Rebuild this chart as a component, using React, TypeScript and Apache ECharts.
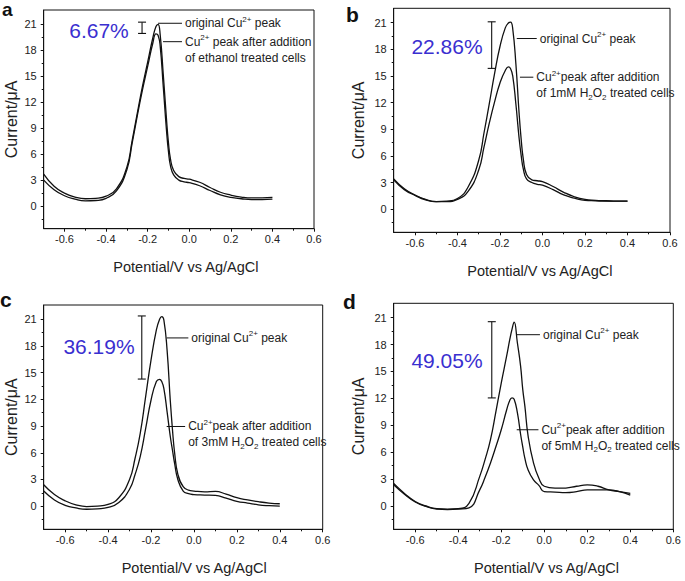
import React, { useEffect, useRef } from "react";
import * as echarts from "echarts";

const FONT = "'Liberation Sans', Arial, Helvetica, sans-serif";

// Shared potential grid (V vs Ag/AgCl)
const potential = [-0.7, -0.65, -0.6, -0.55, -0.5, -0.45, -0.4, -0.35, -0.3, -0.275, -0.25, -0.225, -0.2, -0.175, -0.16, -0.15, -0.14, -0.125, -0.11, -0.1, -0.09, -0.075, -0.05, -0.025, 0, 0.05, 0.1, 0.15, 0.2, 0.25, 0.3, 0.35, 0.4];

// Current (µA)
const aOriginal = [3.7, 2.3, 1.5, 1.05, 0.85, 0.9, 1.15, 2.0, 4.5, 7.5, 10.7, 13.8, 16.6, 19.4, 20.7, 20.95, 19.8, 15.2, 10.2, 7.3, 5.4, 4.1, 3.4, 3.2, 3.1, 2.75, 2.15, 1.6, 1.27, 1.05, 0.95, 0.95, 1.0];
const aTreated = [3.0, 1.9, 1.2, 0.8, 0.6, 0.65, 0.9, 1.75, 4.2, 7.2, 10.4, 13.4, 16.1, 18.8, 19.85, 19.7, 18.5, 13.8, 8.9, 6.3, 4.6, 3.6, 3.0, 2.8, 2.7, 2.35, 1.8, 1.3, 1.0, 0.85, 0.75, 0.75, 0.8];

const bOriginal = [3.4, 2.3, 1.6, 1.1, 0.85, 0.9, 1.2, 2.5, 5.5, 8.6, 11.9, 15.3, 18.3, 20.4, 20.95, 21.05, 20.3, 16.3, 10.8, 7.8, 5.6, 3.9, 3.3, 3.2, 3.1, 2.55, 1.9, 1.4, 1.1, 1.0, 0.95, 0.9, 0.9];
const bTreated = [3.3, 2.2, 1.55, 1.05, 0.85, 0.85, 1.1, 2.0, 4.4, 7.0, 9.7, 12.1, 14.2, 15.6, 16.0, 15.8, 15.0, 11.8, 8.0, 6.0, 4.5, 3.4, 3.0, 2.8, 2.7, 2.2, 1.6, 1.25, 1.0, 0.95, 0.9, 0.9, 0.9];

const cOriginal = [2.4, 1.3, 0.6, 0.15, -0.05, 0.0, 0.2, 0.95, 3.0, 5.3, 8.2, 12.3, 16.4, 19.8, 21.0, 21.3, 20.9, 17.5, 11.8, 8.6, 6.0, 3.6, 2.2, 1.8, 1.7, 1.6, 1.65, 1.35, 0.95, 0.7, 0.5, 0.35, 0.27];
const cTreated = [1.7, 0.7, 0.1, -0.2, -0.35, -0.3, -0.15, 0.4, 1.9, 3.5, 5.6, 8.7, 11.9, 14.0, 14.25, 14.0, 13.2, 10.6, 7.8, 6.3, 4.8, 3.0, 1.7, 1.4, 1.3, 1.25, 1.2, 0.9, 0.55, 0.35, 0.15, 0.05, 0.0];

const dOriginal = [2.5, 1.4, 0.5, 0.0, -0.3, -0.35, -0.3, 0.3, 3.3, 5.2, 7.4, 10.5, 13.7, 16.7, 18.6, 19.7, 20.5, 18.2, 15.6, 13.0, 11.1, 7.8, 4.8, 3.1, 2.2, 2.0, 2.0, 2.2, 2.35, 2.2, 1.8, 1.6, 1.4];
const dTreated = [2.35, 1.3, 0.45, -0.05, -0.35, -0.4, -0.35, -0.2, 1.8, 3.2, 4.8, 6.6, 8.5, 10.7, 11.8, 12.05, 11.9, 10.4, 8.0, 6.6, 5.3, 4.0, 2.9, 2.3, 1.6, 1.55, 1.5, 1.6, 1.8, 1.8, 1.8, 1.6, 1.2];

// Ticks
const yMajor = [0, 3, 6, 9, 12, 15, 18, 21];
const yMinor = [-1.5, 1.5, 4.5, 7.5, 10.5, 13.5, 16.5, 19.5];
const xMajor = [-0.6, -0.4, -0.2, 0, 0.2, 0.4, 0.6];
const xMinor = [-0.5, -0.3, -0.1, 0.1, 0.3, 0.5];

// Percentage decreases
const percents = ["6.67%", "22.86%", "36.19%", "49.05%"];
// Error bars: [x, low, high]
const errorBars = [
  [-0.227, 19.9, 21.2],
  [-0.239, 15.84, 21.08],
  [-0.243, 14.28, 21.37],
  [-0.244, 12.05, 20.55],
];
// Leader lines: [xStart, xEnd, y]
const leaders = [
  [[-0.15, -0.035, 21.07], [-0.126, -0.035, 18.95]],
  [[-0.121, -0.027, 19.2], [-0.106, -0.043, 14.85]],
  [[-0.127, -0.026, 18.9], [-0.127, -0.041, 8.95]],
  [[-0.128, -0.02, 19.1], [-0.128, -0.027, 8.5]],
];
const originalLabel = "{n|original Cu}{sp|2+}{n| peak}";
const treatedLabels = [
  "{n|Cu}{sp|2+}{n| peak after addition}\n{n|of ethanol treated cells}",
  "{n|Cu}{sp|2+}{n|peak after addition}\n{n|of 1mM H}{sb|2}{n|O}{sb|2}{n| treated cells}",
  "{n|Cu}{sp|2+}{n|peak after addition}\n{n|of 3mM H}{sb|2}{n|O}{sb|2}{n| treated cells}",
  "{n|Cu}{sp|2+}{n|peak after addition}\n{n|of 5mM H}{sb|2}{n|O}{sb|2}{n| treated cells}",
];
const letters = ["a", "b", "c", "d"];
const xTitle = "Potential/V vs Ag/AgCl";
const yTitle = "Current/μA";

// Layout (pixels)
const layout = [
  { grid: { left: 43.7, top: 10, width: 270.3, height: 218.7 }, yGap: 24, xShift: 7, pct: [99, 30], letter: [2, 9.5], letterSize: 19 },
  { grid: { left: 393.7, top: 8.3, width: 276.3, height: 224 }, yGap: 27, xShift: 8, pct: [447, 46.7], letter: [346, 14.4], letterSize: 21 },
  { grid: { left: 43.7, top: 305, width: 279, height: 224.3 }, yGap: 24, xShift: 11, pct: [99, 346.7], letter: [0, 299.4], letterSize: 21 },
  { grid: { left: 393.7, top: 303.3, width: 279.6, height: 226 }, yGap: 27, xShift: 13, pct: [447, 360], letter: [343, 301], letterSize: 21 },
];

const series2 = [
  [aOriginal, aTreated],
  [bOriginal, bTreated],
  [cOriginal, cTreated],
  [dOriginal, dTreated],
];

const INK = "#111";
const TXT = "#222";
const Y_MIN = -2.6;
const Y_MAX = 22.6;

const rich = {
  n: { fontSize: 12, fontFamily: FONT, fill: TXT, color: TXT, lineHeight: 16 },
  sp: { fontSize: 8, fontFamily: FONT, fill: TXT, color: TXT, lineHeight: 8, verticalAlign: "top" },
  sb: { fontSize: 8, fontFamily: FONT, fill: TXT, color: TXT, lineHeight: 8, verticalAlign: "bottom" },
};

function buildOption() {
  const grid: any[] = [];
  const xAxis: any[] = [];
  const yAxis: any[] = [];
  const series: any[] = [];
  const graphic: any[] = [];

  layout.forEach((L, i) => {
    grid.push({ ...L.grid, show: true, borderColor: INK, borderWidth: 1, backgroundColor: "rgba(0,0,0,0)" });

    xAxis.push({
      type: "value", gridIndex: i, min: -0.7, max: 0.6, position: "bottom",
      name: "{t|" + xTitle + "}", nameLocation: "middle", nameGap: 31,
      nameTextStyle: {
        fontFamily: FONT, fontSize: 14.5, color: TXT,
        rich: { t: { fontFamily: FONT, fontSize: 14.5, color: TXT, padding: [0, 0, 0, 2 * L.xShift] } },
      },
      axisLine: { show: true, onZero: false, lineStyle: { color: INK, width: 1 } },
      axisTick: { show: true, inside: false, length: 3, customValues: xMajor, lineStyle: { color: INK } },
      axisLabel: { show: true, customValues: xMajor, formatter: (v: number) => v.toFixed(1), fontFamily: FONT, fontSize: 11, color: TXT, margin: 5 },
      splitLine: { show: false },
    });
    xAxis.push({
      type: "value", gridIndex: i, min: -0.7, max: 0.6, position: "bottom",
      axisLine: { show: false, onZero: false },
      axisTick: { show: true, inside: false, length: 2, customValues: xMinor, lineStyle: { color: INK } },
      axisLabel: { show: false },
      splitLine: { show: false },
    });
    yAxis.push({
      type: "value", gridIndex: i, min: Y_MIN, max: Y_MAX, position: "left",
      name: yTitle, nameLocation: "middle", nameGap: L.yGap, nameRotate: 90,
      nameTextStyle: { fontFamily: FONT, fontSize: 16, color: TXT },
      axisLine: { show: true, onZero: false, lineStyle: { color: INK, width: 1 } },
      axisTick: { show: true, inside: false, length: 3, customValues: yMajor, lineStyle: { color: INK } },
      axisLabel: { show: true, customValues: yMajor, formatter: (v: number) => String(v), fontFamily: FONT, fontSize: 11, color: TXT, margin: 7 },
      splitLine: { show: false },
    });
    yAxis.push({
      type: "value", gridIndex: i, min: Y_MIN, max: Y_MAX, position: "left",
      axisLine: { show: false, onZero: false },
      axisTick: { show: true, inside: false, length: 2, customValues: yMinor, lineStyle: { color: INK } },
      axisLabel: { show: false },
      splitLine: { show: false },
    });

    const xi = 2 * i;
    series2[i].forEach((vals, k) => {
      series.push({
        type: "line", name: k === 0 ? "original" : "treated",
        xAxisIndex: xi, yAxisIndex: xi,
        data: potential.map((x, j) => [x, vals[j]]),
        symbol: "none", showSymbol: false, smooth: 0.5,
        lineStyle: { color: INK, width: 1.3 }, silent: true, z: 3,
      });
    });

    series.push({
      type: "custom", xAxisIndex: xi, yAxisIndex: xi, silent: true,
      data: [errorBars[i]],
      renderItem: (params: any, api: any) => {
        const top = api.coord([api.value(0), api.value(2)]);
        const bot = api.coord([api.value(0), api.value(1)]);
        const w = 4;
        const st = { stroke: INK, lineWidth: 1.1 };
        return {
          type: "group",
          children: [
            { type: "line", shape: { x1: top[0], y1: top[1], x2: bot[0], y2: bot[1] }, style: st },
            { type: "line", shape: { x1: top[0] - w, y1: top[1], x2: top[0] + w, y2: top[1] }, style: st },
            { type: "line", shape: { x1: bot[0] - w, y1: bot[1], x2: bot[0] + w, y2: bot[1] }, style: st },
          ],
        };
      },
    });

    const labelsHere = [originalLabel, treatedLabels[i]];
    series.push({
      type: "custom", xAxisIndex: xi, yAxisIndex: xi, silent: true,
      data: leaders[i],
      renderItem: (params: any, api: any) => {
        const p1 = api.coord([api.value(0), api.value(2)]);
        const p2 = api.coord([api.value(1), api.value(2)]);
        return {
          type: "group",
          children: [
            { type: "line", shape: { x1: p1[0], y1: p1[1], x2: p2[0], y2: p2[1] }, style: { stroke: INK, lineWidth: 1 } },
            {
              type: "text", x: p2[0] + 3, y: p1[1] - 8,
              style: { text: labelsHere[params.dataIndex], rich, fontFamily: FONT, fontSize: 12, lineHeight: 16, fill: TXT, align: "left", verticalAlign: "top" },
            },
          ],
        };
      },
    });

    graphic.push({
      type: "text", x: L.pct[0], y: L.pct[1], silent: true,
      style: { text: percents[i], fontFamily: FONT, fontSize: 21, fill: "#3a2fd0", align: "center", verticalAlign: "middle" },
    });
    graphic.push({
      type: "text", x: L.letter[0], y: L.letter[1], silent: true,
      style: { text: letters[i], fontFamily: FONT, fontSize: L.letterSize, fontWeight: "bold", fill: INK, align: "left", verticalAlign: "middle" },
    });
  });

  return { animation: false, backgroundColor: "#fff", grid, xAxis, yAxis, series, graphic };
}

export default function App() {
  const ref = useRef<HTMLDivElement>(null);
  useEffect(() => {
    const chart = echarts.init(ref.current!, null, { renderer: "svg" });
    chart.setOption(buildOption() as any);
    return () => chart.dispose();
  }, []);
  return <div ref={ref} style={{ position: "absolute", left: 0, top: 0, width: 685, height: 581, background: "#fff" }} />;
}
